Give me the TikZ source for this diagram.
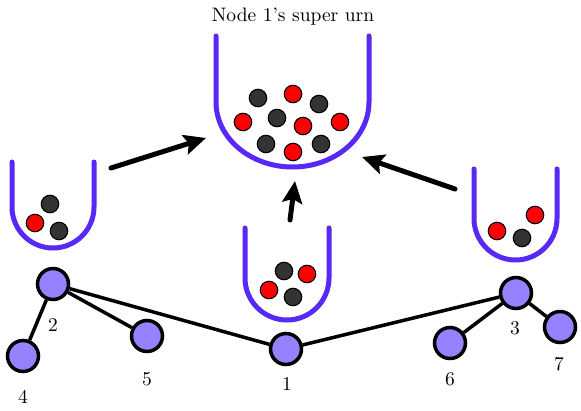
\documentclass[tikz,border=0pt]{standalone}
\usepackage{fontspec}
\usepackage{graphicx}
\usetikzlibrary{arrows.meta}
\definecolor{urncol}{RGB}{88,40,245}
\definecolor{nodefill}{RGB}{150,130,255}
\definecolor{darkball}{RGB}{51,51,51}
\definecolor{redball}{RGB}{255,0,0}
\newcommand\bigtxt[1]{\scalebox{1.95}{\fontsize{10}{12}\selectfont #1}}
\begin{document}
\begin{tikzpicture}[x=1pt,y=-1pt,
  urn/.style={draw=urncol,line width=5pt,line cap=round},
  gnode/.style={circle,draw=black,fill=nodefill,line width=3.5pt,minimum size=31pt,inner sep=0pt},
  ball/.style={circle,draw=black,line width=1.1pt,minimum size=17.5pt,inner sep=0pt},
  dball/.style={ball,fill=darkball},
  rball/.style={ball,fill=redball},
  edge/.style={line width=3.5pt},
  bigarrow/.style={line width=5pt,line cap=round,-{Stealth[length=22pt,width=20pt,inset=4pt]}},
  lbl/.style={inner sep=0pt}
]
\useasboundingbox (0,0) rectangle (581,410);

% title
\node[lbl] (title) at (293,17) {\bigtxt{Node 1's super urn}};

% urns
\draw[urn] (216,36) -- (216,102) arc[start angle=180,end angle=360,x radius=76.5pt,y radius=65pt] -- (369,36);
\draw[urn] (12,162) -- (12,207) arc[start angle=180,end angle=360,radius=41pt] -- (94,162);
\draw[urn] (245,228) -- (245,278) arc[start angle=180,end angle=360,radius=42pt] -- (329,228);
\draw[urn] (474,169) -- (474,218.5) arc[start angle=180,end angle=360,radius=41.5pt] -- (557,169);

% big urn balls
\node[dball] (s1) at (258,98) {};
\node[rball] (s2) at (293,94) {};
\node[dball] (s3) at (319,104) {};
\node[rball] (s4) at (243,122) {};
\node[dball] (s5) at (277,118) {};
\node[rball] (s6) at (303,126) {};
\node[rball] (s7) at (340,122) {};
\node[dball] (s8) at (266,144) {};
\node[rball] (s9) at (293,152) {};
\node[dball] (s10) at (321,144) {};

% left urn balls
\node[dball] (l1) at (50,204) {};
\node[rball] (l2) at (35,223) {};
\node[dball] (l3) at (59,231) {};

% middle urn balls
\node[dball] (m1) at (284,271) {};
\node[rball] (m2) at (307,274) {};
\node[rball] (m3) at (269,290) {};
\node[dball] (m4) at (293,297) {};

% right urn balls
\node[rball] (r1) at (535,215) {};
\node[rball] (r2) at (497,231) {};
\node[dball] (r3) at (522,238) {};

% arrows
\coordinate (a1s) at (111,168);
\coordinate (a1e) at (206,138);
\coordinate (a2s) at (290,220);
\coordinate (a2e) at (295,181);
\coordinate (a3s) at (455,189);
\coordinate (a3e) at (362,157);
\draw[bigarrow] (a1s) -- (a1e);
\draw[bigarrow] (a2s) -- (a2e);
\draw[bigarrow] (a3s) -- (a3e);

% graph nodes
\node[gnode] (n1) at (286,349) {};
\node[gnode] (n2) at (53,284) {};
\node[gnode] (n3) at (516,293) {};
\node[gnode] (n4) at (23,356) {};
\node[gnode] (n5) at (147,336) {};
\node[gnode] (n6) at (450,343) {};
\node[gnode] (n7) at (560,327) {};

\draw[edge] (n2) -- (n1);
\draw[edge] (n2) -- (n5);
\draw[edge] (n2) -- (n4);
\draw[edge] (n1) -- (n3);
\draw[edge] (n3) -- (n6);
\draw[edge] (n3) -- (n7);

% labels
\node[lbl] (t1) at (287,384) {\bigtxt{1}};
\node[lbl] (t2) at (53,325) {\bigtxt{2}};
\node[lbl] (t3) at (515,328) {\bigtxt{3}};
\node[lbl] (t4) at (23,397) {\bigtxt{4}};
\node[lbl] (t5) at (147,379) {\bigtxt{5}};
\node[lbl] (t6) at (450,379) {\bigtxt{6}};
\node[lbl] (t7) at (559,364) {\bigtxt{7}};
\end{tikzpicture}
\end{document}
